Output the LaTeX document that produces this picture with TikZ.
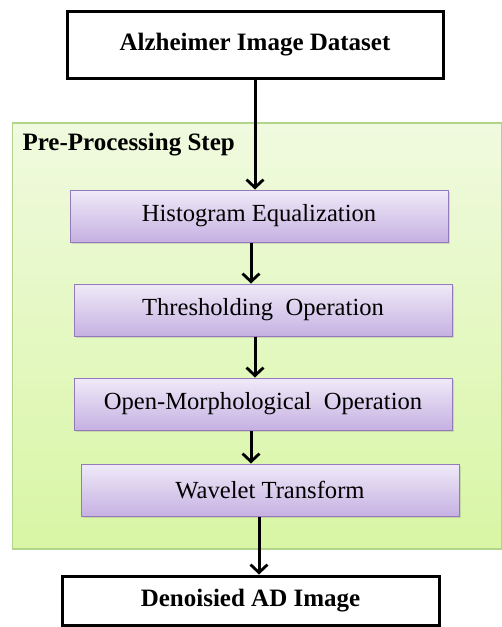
\documentclass[tikz,border=0pt]{standalone}
\usepackage{fontspec}
\setmainfont{Liberation Serif}
\usetikzlibrary{arrows.meta,shadows}

\definecolor{stagefill}{HTML}{F0FADF}
\definecolor{stagefilldark}{HTML}{D8F6A4}
\definecolor{stageline}{HTML}{B3D58A}
\definecolor{opfill}{HTML}{EFEAF8}
\definecolor{opfilldark}{HTML}{C6B1E2}
\definecolor{opline}{HTML}{9479BD}

\begin{document}
\begin{tikzpicture}[x=1pt,y=-1pt,
    iobox/.style={draw=black,line width=3pt,fill=white,minimum width=376pt,
      font=\fontsize{25}{28}\selectfont\bfseries},
    opbox/.style={draw=opline,line width=1pt,top color=opfill,bottom color=opfilldark,
      minimum width=378pt,minimum height=52pt,drop shadow={opacity=0.25,shadow xshift=1.5pt,shadow yshift=-1.5pt},
      font=\fontsize{24.6}{28}\selectfont},
    flow/.style={line width=3pt,-{Straight Barb[length=8pt,width=17pt,line width=2.8pt]}}]
  \useasboundingbox (0,0) rectangle (502,627);
  % pre-processing frame
  \node[draw=stageline,line width=1.2pt,top color=stagefill,bottom color=stagefilldark,
    minimum width=489pt,minimum height=426pt,inner sep=0pt] (prep) at (257,336) {};
  \node[anchor=west,font=\fontsize{25}{28}\selectfont\bfseries] (preplabel) at (19,145) {Pre-Processing Step};
  % input / output
  \node[iobox,minimum height=67pt] (data) at (255,44.5) {Alzheimer Image Dataset};
  \node[iobox,minimum height=49pt,minimum width=377pt] (out) at (250.5,600.5) {Denoisied AD Image};
  % operations
  \node[opbox] (hist) at (259,216) {Histogram Equalization};
  \node[opbox] (thresh) at (263,310) {Thresholding\ \ Operation};
  \node[opbox] (morph) at (263,404) {Open-Morphological\ \ Operation};
  \node[opbox] (wave) at (270,490) {Wavelet Transform};
  % arrows
  \draw[flow] (data.south) -- (hist.north -| data.south);
  \draw[flow] (hist.south -| 251,0) -- (thresh.north -| 251,0);
  \draw[flow] (thresh.south -| 255,0) -- (morph.north -| 255,0);
  \draw[flow] (morph.south -| 251,0) -- (wave.north -| 251,0);
  \draw[flow] (wave.south -| 259,0) -- (out.north -| 259,0);
\end{tikzpicture}
\end{document}
